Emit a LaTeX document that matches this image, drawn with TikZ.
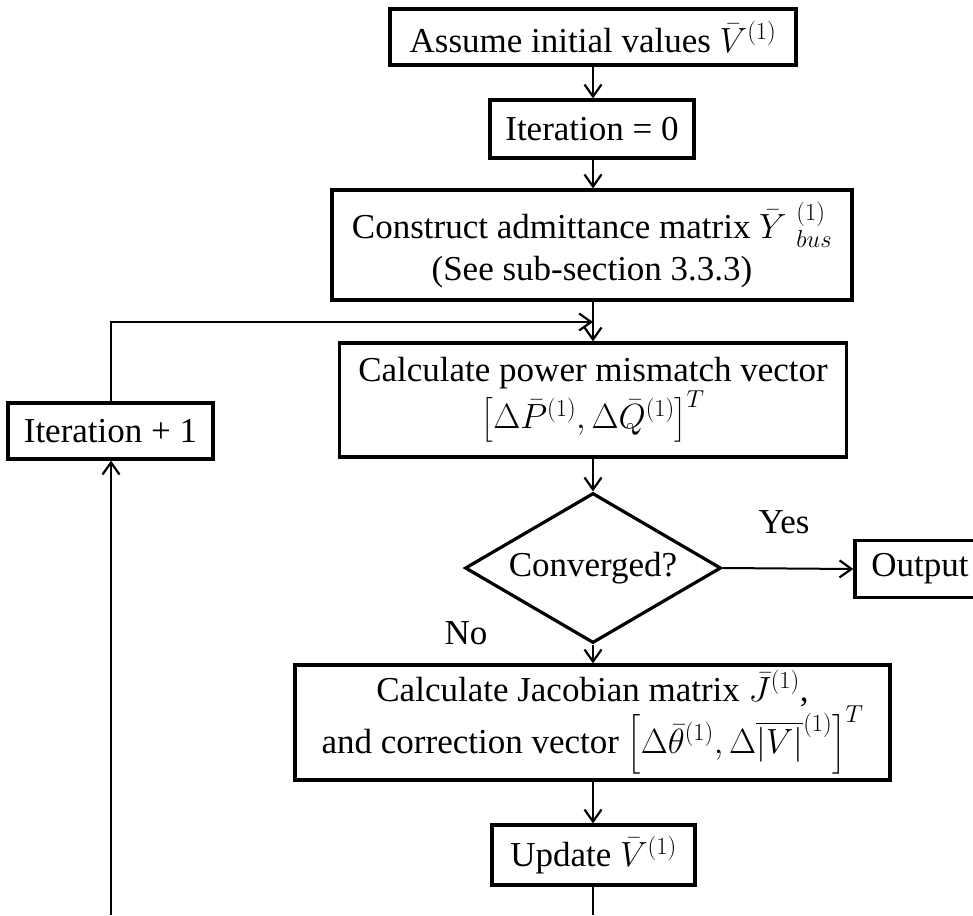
\RequirePackage{fix-cm}
\documentclass[tikz,border=0pt]{standalone}
\usepackage{amsmath}
\usepackage{fontspec}
\setmainfont{Liberation Serif}
\usetikzlibrary{shapes.geometric,arrows.meta}
\begin{document}
\begin{tikzpicture}[x=1pt,y=-1pt,
  box/.style={draw,line width=3.2pt,align=center,inner sep=0pt,font=\fontsize{35}{44}\selectfont},
  dec/.style={draw,diamond,line width=3.2pt,inner sep=0pt},
  conn/.style={line width=2pt},
  arr/.style={conn,-{Straight Barb[length=12pt,width=17pt,line width=2.2pt]}},
  lbl/.style={font=\fontsize{35}{44}\selectfont,inner sep=0pt}]
\useasboundingbox (0,0) rectangle (973,915);
\node[box,minimum width=406pt,minimum height=56pt] (b1) at (593,37) {Assume initial values $\bar{V}^{(1)}$};
\node[box,minimum width=204pt,minimum height=58pt] (b2) at (592,129) {Iteration = 0};
\node[box,minimum width=520pt,minimum height=110pt] (b3) at (592,245) {Construct admittance matrix $\bar{Y}\;{}^{(1)}_{bus}$\\[-2pt](See sub-section 3.3.3)};
\node[box,minimum width=507pt,minimum height=114pt] (b4) at (593,400) {Calculate power mismatch vector\\$\left[\Delta\bar{P}^{(1)},\Delta\bar{Q}^{(1)}\right]^T$};
\node[dec,minimum width=256pt,minimum height=150pt] (d) at (593,568) {};
\node[lbl] (dt) at (d.center) {Converged?};
\node[box,minimum width=130pt,minimum height=57pt] (out) at (920,569) {Output};
\node[box,minimum width=595pt,minimum height=115pt] (b5) at (592.5,722.5) {Calculate Jacobian matrix $\bar{J}^{(1)}$,\\[-2pt]and correction vector $\left[\Delta\bar{\theta}^{(1)},\Delta\overline{|V|}^{(1)}\right]^T$};
\node[box,minimum width=203pt,minimum height=60pt] (b6) at (593.5,855) {Update $\bar{V}^{(1)}$};
\node[box,minimum width=205pt,minimum height=56pt] (it) at (110.5,431) {Iteration + 1};
\node[lbl] (yes) at (784,522) {Yes};
\node[lbl] (no) at (466,633) {No};
\coordinate (m) at (593,322);
\coordinate (bl) at (111,915);
\coordinate (br) at (593,915);
\draw[arr] (b1.south -| m) -- (b2.north -| m);
\draw[arr] (b2.south -| m) -- (b3.north -| m);
\draw[arr] (b3.south -| m) -- (b4.north -| m);
\draw[arr] (it.north -| bl) |- (m);
\draw[arr] (b4.south -| m) -- (d.north);
\draw[arr] (d.east) -- (out.west);
\draw[arr] (d.south) -- (b5.north -| d.south);
\draw[arr] (b5.south -| m) -- (b6.north -| m);
\draw[conn] (b6.south -| m) -- (br);
\draw[arr] (bl) -- (it.south -| bl);
\end{tikzpicture}
\end{document}
